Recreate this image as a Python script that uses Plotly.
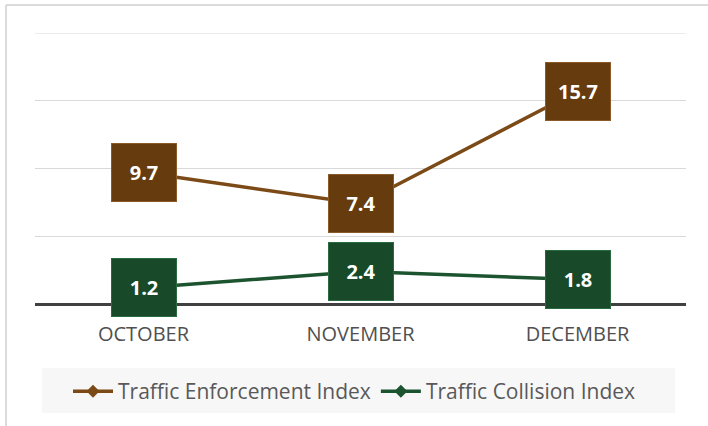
import plotly.graph_objects as go

months = ["OCTOBER", "NOVEMBER", "DECEMBER"]
enforcement = [9.7, 7.4, 15.7]
collision = [1.2, 2.4, 1.8]

brown = "#7B4A17"
brown_box = "#663B0E"
green = "#1D5430"
green_box = "#184A2A"
font_family = "'Open Sans', sans-serif"

W, H = 708, 426
L, R, T, B = 35, 22, 33, 122
pw, ph = W - L - R, H - T - B


def px_x(x):
    return (x - L) / pw


def px_y(y):
    return (H - B - y) / ph


fig = go.Figure()
fig.add_trace(go.Scatter(
    x=months, y=enforcement, mode="lines+markers", name="Traffic Enforcement Index",
    line=dict(color=brown, width=3.5),
    marker=dict(symbol="diamond", size=10, color=brown),
))
fig.add_trace(go.Scatter(
    x=months, y=collision, mode="lines+markers", name="Traffic Collision Index",
    line=dict(color=green, width=3.5),
    marker=dict(symbol="diamond", size=10, color=green),
))

annotations = []
for vals, box, edge in ((enforcement, brown_box, "#8a5a28"), (collision, green_box, "#2a6a40")):
    for m, v in zip(months, vals):
        annotations.append(dict(x=m, y=v, xref="x", yref="y", text=f"<b>{v}</b>", showarrow=False,
                                width=62, height=55, bgcolor=box, bordercolor=edge, borderwidth=1,
                                font=dict(color="white", size=20, family=font_family),
                                align="center", valign="middle"))

fig.update_layout(
    width=W, height=H,
    margin=dict(l=L, r=R, t=T, b=B),
    paper_bgcolor="white", plot_bgcolor="white",
    font=dict(family=font_family, color="#595959", size=20),
    showlegend=True,
    legend=dict(orientation="h", x=px_x(68), y=px_y(371), xanchor="left", yanchor="top",
                bgcolor="rgba(0,0,0,0)", font=dict(size=21, color="#595959"),
                itemwidth=40, tracegroupgap=0),
    annotations=annotations,
    shapes=[
        dict(type="rect", xref="paper", yref="paper", x0=px_x(42), x1=px_x(675), y0=px_y(413), y1=px_y(368),
             fillcolor="#f7f7f7", line=dict(width=0), layer="below"),
        dict(type="line", xref="paper", yref="paper", x0=px_x(6), x1=px_x(6), y0=px_y(426), y1=px_y(5),
             line=dict(color="#cfcfcf", width=1.5)),
        dict(type="line", xref="paper", yref="paper", x0=px_x(6), x1=px_x(708), y0=px_y(5), y1=px_y(5),
             line=dict(color="#cfcfcf", width=1.5)),
        dict(type="line", xref="paper", yref="y", x0=0, x1=1, y0=20, y1=20,
             line=dict(color="#d9d9d9", width=1), layer="below"),
    ],
)
fig.update_xaxes(showgrid=False, zeroline=False, showline=False, range=[-0.5, 2.5],
                 ticks="outside", ticklen=12, tickcolor="rgba(0,0,0,0)",
                 tickfont=dict(size=20, color="#505050"))
fig.update_yaxes(range=[0, 20], tickvals=[5, 10, 15, 20], showticklabels=False, showgrid=True,
                 gridcolor="#d9d9d9", gridwidth=1, zeroline=True, zerolinecolor="#404040",
                 zerolinewidth=2.5, showline=False)

fig.write_html("out.html", config={"displayModeBar": False},
               post_script="document.body.style.margin='0';")
